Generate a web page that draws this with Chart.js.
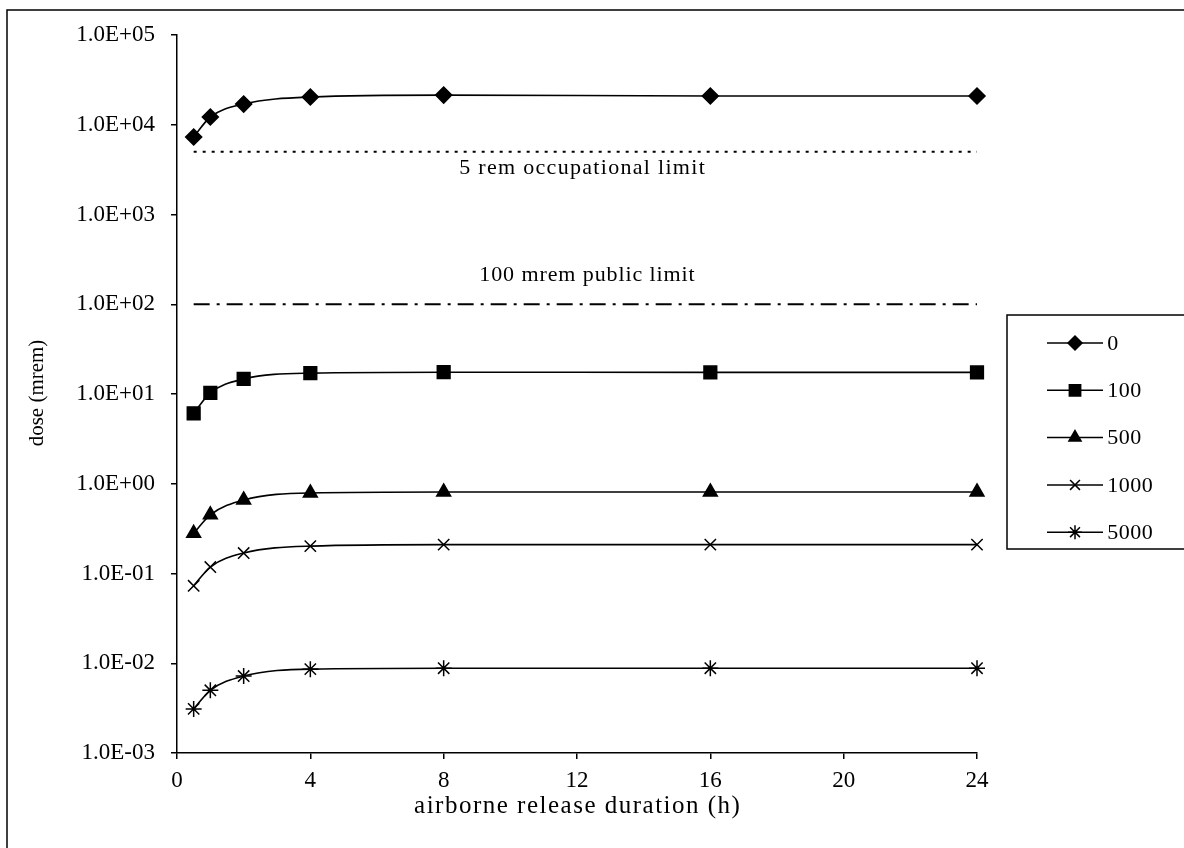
<!DOCTYPE html>
<html>
<head>
<meta charset="utf-8">
<script src="https://cdn.jsdelivr.net/npm/chart.js@4.4.1/dist/chart.umd.min.js"></script>
<style>
    html, body { margin: 0; padding: 0; background: #fff; }
</style>
</head>
<body>
<canvas id="chartContainer" width="1184" height="848"></canvas>
<script>
// release duration (h) and dose (mrem) per distance series
const durations = [0.5, 1, 2, 4, 8, 16, 24];
const seriesNames = ["0", "100", "500", "1000", "5000"];
const dose0 = [7300, 12200, 17000, 20400, 21400, 20900, 20900];
const dose100 = [6.1, 10.3, 14.7, 17.1, 17.5, 17.4, 17.4];
const dose500 = [0.28, 0.45, 0.66, 0.79, 0.81, 0.81, 0.81];
const dose1000 = [0.073, 0.118, 0.169, 0.202, 0.21, 0.21, 0.21];
const dose5000 = [0.0031, 0.0050, 0.0072, 0.0086, 0.0088, 0.0088, 0.0088];

const occupationalLimit = 5000;
const publicLimit = 100;
const limitSpan = [0.5, 24];

const xTicks = [0, 4, 8, 12, 16, 20, 24];
const yTicks = [1e-3, 1e-2, 1e-1, 1, 10, 100, 1000, 10000, 100000];
const yTickLabels = ["1.0E-03", "1.0E-02", "1.0E-01", "1.0E+00", "1.0E+01",
    "1.0E+02", "1.0E+03", "1.0E+04", "1.0E+05"];

const xTitle = "airborne release duration (h)";
const yTitle = "dose (mrem)";

const FONT = "'Liberation Serif', 'Times New Roman', serif";
Chart.defaults.font.family = FONT;
Chart.defaults.color = "#000";

const markers = ["rectRot", "rect", "triangle", "crossRot", "star"];
const markerSize = [8, 9, 8, 8, 8];
const allDoses = [dose0, dose100, dose500, dose1000, dose5000];

const datasets = allDoses.map((vals, i) => ({
    label: seriesNames[i],
    data: durations.map((d, j) => ({ x: d, y: vals[j] })),
    borderColor: "#000",
    backgroundColor: "#000",
    borderWidth: 1.6,
    pointStyle: markers[i],
    pointRadius: markerSize[i],
    pointBorderWidth: 1.5,
    pointHoverRadius: markerSize[i],
    tension: 0.4,
    cubicInterpolationMode: "monotone",
    clip: false,
}));

datasets.push({
    label: "5 rem occupational limit",
    data: limitSpan.map((d) => ({ x: d, y: occupationalLimit })),
    borderColor: "#000",
    borderWidth: 2,
    borderDash: [3, 6],
    pointRadius: 0,
});
datasets.push({
    label: "100 mrem public limit",
    data: limitSpan.map((d) => ({ x: d, y: publicLimit })),
    borderColor: "#000",
    borderWidth: 2,
    borderDash: [16, 7, 3, 7],
    pointRadius: 0,
});

function spacedText(ctx, text, x, y, size, spacing) {
    ctx.font = size + "px " + FONT;
    ctx.letterSpacing = spacing + "px";
    ctx.fillText(text, x + spacing / 2, y);
    ctx.letterSpacing = "0px";
}

// frame, axis titles, limit captions and the boxed legend
const extras = {
    id: "extras",
    beforeDraw(chart) {
        const ctx = chart.ctx;
        ctx.save();
        ctx.fillStyle = "#fff";
        ctx.fillRect(0, 0, chart.width, chart.height);
        ctx.strokeStyle = "#000";
        ctx.lineWidth = 1.5;
        ctx.beginPath();
        ctx.moveTo(7, chart.height);
        ctx.lineTo(7, 10);
        ctx.lineTo(chart.width, 10);
        ctx.stroke();
        ctx.restore();
    },
    afterDatasetsDraw(chart) {
        const ctx = chart.ctx;
        const x = chart.scales.x;
        const y = chart.scales.y;
        ctx.save();
        ctx.fillStyle = "#000";
        ctx.textAlign = "center";
        ctx.textBaseline = "middle";
        spacedText(ctx, "5 rem occupational limit", x.getPixelForValue(12.15), y.getPixelForValue(occupationalLimit) + 16, 22, 1.3);
        spacedText(ctx, "100 mrem public limit", x.getPixelForValue(12.3), y.getPixelForValue(publicLimit) - 29, 22, 0.9);

        spacedText(ctx, xTitle, x.getPixelForValue(12), 806, 25, 1.5);
        ctx.save();
        ctx.translate(37, y.getPixelForValue(10) - 1);
        ctx.rotate(-Math.PI / 2);
        spacedText(ctx, yTitle, 0, 0, 21, 0);
        ctx.restore();

        // legend
        ctx.lineWidth = 1.5;
        ctx.strokeStyle = "#000";
        ctx.strokeRect(1007, 315, 200, 234);
        ctx.textAlign = "left";
        seriesNames.forEach((name, i) => {
            const ly = 343 + i * 47.3;
            ctx.beginPath();
            ctx.moveTo(1047, ly);
            ctx.lineTo(1103, ly);
            ctx.stroke();
            Chart.helpers.drawPoint(ctx, {
                pointStyle: markers[i],
                radius: markerSize[i] - 1,
                borderWidth: 1.5,
                rotation: 0,
            }, 1075, ly);
            spacedText(ctx, name, 1107, ly + 1, 22, 0.5);
        });
        ctx.restore();
    },
};

const chart = new Chart(document.getElementById("chartContainer"), {
    type: "line",
    data: { datasets },
    options: {
        responsive: false,
        animation: false,
        layout: { padding: { top: 35, right: 207, left: 0, bottom: 0 } },
        plugins: {
            legend: { display: false },
            tooltip: { enabled: false },
        },
        scales: {
            x: {
                type: "linear",
                min: 0,
                max: 24,
                afterBuildTicks: (s) => { s.ticks = xTicks.map((v) => ({ value: v })); },
                afterFit: (s) => { s.height = 95; },
                grid: { drawOnChartArea: false, drawTicks: true, tickLength: 6, color: "#000", lineWidth: 1.5 },
                border: { color: "#000", width: 1.5 },
                ticks: { font: { size: 23 }, padding: 8, maxRotation: 0 },
            },
            y: {
                type: "logarithmic",
                min: 1e-3,
                max: 1e5,
                afterBuildTicks: (s) => { s.ticks = yTicks.map((v) => ({ value: v })); },
                afterFit: (s) => { s.width = 177; },
                grid: { drawOnChartArea: false, drawTicks: true, tickLength: 6, color: "#000", lineWidth: 1.5 },
                border: { color: "#000", width: 1.5 },
                ticks: {
                    font: { size: 23 },
                    padding: 16,
                    callback: (v) => yTickLabels[yTicks.indexOf(v)],
                },
            },
        },
    },
    plugins: [extras],
});
</script>
</body>
</html>
